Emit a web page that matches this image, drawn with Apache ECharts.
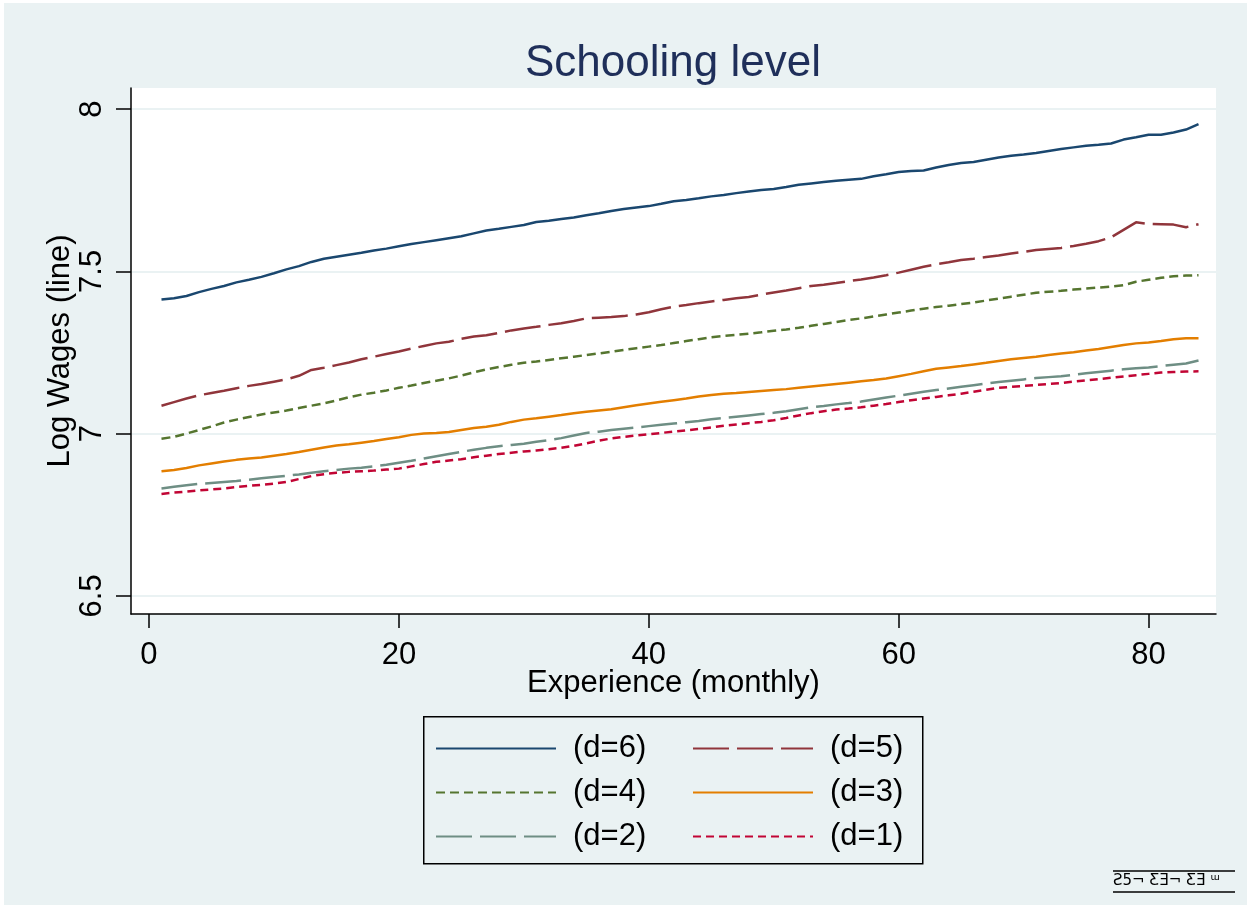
<!DOCTYPE html>
<html>
<head>
<meta charset="utf-8">
<title>Schooling level</title>
<script src="https://cdn.jsdelivr.net/npm/echarts@6/dist/echarts.min.js"></script>
<style>
  html, body { margin: 0; padding: 0; background: #ffffff; }
  #chart { width: 1247px; height: 905px; }
</style>
</head>
<body>
<div id="chart"></div>
<script>
// Experience in months
const experience = [
  1,2,3,4,5,6,7,8,9,10,11,12,13,14,15,16,17,18,19,20,21,22,23,24,25,26,27,28,29,30,
  31,32,33,34,35,36,37,38,39,40,41,42,43,44,45,46,47,48,49,50,51,52,53,54,55,56,57,58,59,60,
  61,62,63,64,65,66,67,68,69,70,71,72,73,74,75,76,77,78,79,80,81,82,83,84
];

// Mean log wage by schooling level d
const wagesD6 = [
  7.413,7.417,7.424,7.436,7.446,7.455,7.466,7.474,7.483,7.494,7.506,7.516,7.529,7.539,7.545,
  7.551,7.557,7.564,7.570,7.577,7.584,7.590,7.596,7.602,7.608,7.617,7.626,7.631,7.637,7.643,
  7.652,7.656,7.661,7.666,7.673,7.679,7.686,7.692,7.697,7.701,7.708,7.716,7.720,7.725,7.731,
  7.735,7.741,7.746,7.751,7.754,7.760,7.767,7.771,7.775,7.779,7.782,7.785,7.793,7.799,7.806,
  7.809,7.811,7.820,7.828,7.834,7.837,7.844,7.851,7.856,7.860,7.865,7.871,7.877,7.882,7.887,
  7.890,7.894,7.906,7.913,7.921,7.921,7.928,7.937,7.954
];
const wagesD5 = [
  7.086,7.097,7.108,7.118,7.125,7.132,7.140,7.147,7.153,7.160,7.167,7.178,7.196,7.203,7.211,
  7.219,7.229,7.237,7.245,7.253,7.262,7.270,7.278,7.283,7.292,7.299,7.303,7.310,7.318,7.324,
  7.329,7.335,7.340,7.347,7.355,7.357,7.359,7.362,7.367,7.374,7.383,7.391,7.396,7.402,7.407,
  7.412,7.417,7.421,7.428,7.435,7.441,7.448,7.455,7.459,7.464,7.470,7.475,7.481,7.488,7.496,
  7.505,7.514,7.522,7.528,7.535,7.539,7.544,7.549,7.555,7.560,7.566,7.569,7.572,7.578,7.585,
  7.593,7.605,7.628,7.651,7.646,7.645,7.644,7.636,7.645
];
const wagesD4 = [
  6.984,6.990,7.000,7.011,7.022,7.034,7.043,7.051,7.059,7.065,7.071,7.079,7.086,7.093,7.102,
  7.112,7.120,7.126,7.133,7.141,7.148,7.156,7.163,7.170,7.179,7.189,7.198,7.205,7.212,7.218,
  7.222,7.227,7.232,7.237,7.242,7.247,7.252,7.258,7.263,7.268,7.273,7.279,7.285,7.291,7.297,
  7.301,7.304,7.308,7.312,7.317,7.321,7.326,7.332,7.338,7.344,7.350,7.355,7.361,7.367,7.373,
  7.379,7.385,7.390,7.394,7.399,7.404,7.410,7.416,7.422,7.428,7.434,7.437,7.440,7.444,7.447,
  7.450,7.453,7.457,7.468,7.474,7.480,7.485,7.487,7.488
];
const wagesD3 = [
  6.884,6.888,6.894,6.902,6.908,6.914,6.919,6.923,6.926,6.932,6.937,6.943,6.950,6.957,6.963,
  6.967,6.972,6.977,6.983,6.989,6.996,7.000,7.002,7.005,7.011,7.017,7.021,7.027,7.036,7.043,
  7.047,7.052,7.057,7.063,7.067,7.071,7.075,7.081,7.087,7.093,7.098,7.103,7.108,7.114,7.119,
  7.123,7.125,7.128,7.131,7.134,7.137,7.141,7.145,7.149,7.153,7.157,7.161,7.165,7.170,7.177,
  7.184,7.192,7.200,7.204,7.208,7.213,7.218,7.224,7.229,7.233,7.237,7.242,7.247,7.251,7.256,
  7.261,7.267,7.273,7.278,7.281,7.285,7.291,7.294,7.294
];
const wagesD2 = [
  6.831,6.836,6.841,6.845,6.848,6.851,6.854,6.858,6.862,6.866,6.870,6.874,6.879,6.884,6.888,
  6.892,6.895,6.899,6.904,6.910,6.916,6.923,6.930,6.937,6.944,6.950,6.956,6.961,6.965,6.969,
  6.975,6.980,6.986,6.994,7.002,7.006,7.011,7.015,7.019,7.023,7.027,7.031,7.035,7.039,7.044,
  7.048,7.052,7.056,7.060,7.064,7.069,7.075,7.081,7.085,7.090,7.094,7.099,7.105,7.111,7.117,
  7.123,7.129,7.134,7.139,7.144,7.149,7.154,7.159,7.163,7.167,7.171,7.174,7.177,7.181,7.186,
  7.190,7.194,7.198,7.201,7.204,7.208,7.212,7.216,7.225
];
const wagesD1 = [
  6.814,6.818,6.821,6.825,6.828,6.831,6.835,6.839,6.842,6.846,6.851,6.860,6.869,6.875,6.879,
  6.882,6.884,6.886,6.889,6.892,6.899,6.906,6.913,6.917,6.921,6.927,6.932,6.937,6.941,6.945,
  6.948,6.952,6.956,6.962,6.970,6.978,6.985,6.990,6.994,6.998,7.002,7.006,7.010,7.014,7.019,
  7.024,7.028,7.032,7.036,7.041,7.048,7.056,7.063,7.069,7.074,7.077,7.081,7.086,7.091,7.097,
  7.103,7.108,7.113,7.118,7.123,7.129,7.135,7.141,7.144,7.147,7.150,7.153,7.156,7.160,7.164,
  7.168,7.172,7.176,7.180,7.184,7.188,7.190,7.191,7.192
];

const xTicks = [0, 20, 40, 60, 80];
const yTicks = [6.5, 7, 7.5, 8];
const seriesNames = ['(d=6)', '(d=5)', '(d=4)', '(d=3)', '(d=2)', '(d=1)'];

const FONT = '"Liberation Sans", Arial, sans-serif';
const BG = '#EAF2F3';
const TEXT_SIZE = 31;

const styles = [
  { color: '#1A476F', type: 'solid' },
  { color: '#90353B', type: [36, 8] },
  { color: '#55752F', type: [9, 5] },
  { color: '#E37E00', type: 'solid' },
  { color: '#6E8E84', type: [36, 8] },
  { color: '#C10534', type: [8, 5] }
];
const values = [wagesD6, wagesD5, wagesD4, wagesD3, wagesD2, wagesD1];

const series = seriesNames.map((name, i) => ({
  name: name,
  type: 'line',
  showSymbol: false,
  symbol: 'none',
  animation: false,
  data: experience.map((x, j) => [x, values[i][j]]),
  lineStyle: { color: styles[i].color, width: 2.5, type: styles[i].type },
  itemStyle: { color: styles[i].color }
}));

const chart = echarts.init(document.getElementById('chart'), null, { renderer: 'canvas' });

chart.setOption({
  backgroundColor: BG,
  animation: false,
  textStyle: { fontFamily: FONT },
  title: {
    text: 'Schooling level',
    left: 668,
    top: 37,
    textAlign: 'center',
    textStyle: { fontFamily: FONT, fontSize: 44, fontWeight: 'normal', color: '#1F2F5A' }
  },
  grid: {
    left: 131, right: 31, top: 88, bottom: 291,
    show: true, backgroundColor: '#ffffff', borderWidth: 0
  },
  xAxis: {
    type: 'value',
    min: -1.44,
    max: 85.4,
    name: 'Experience (monthly)',
    nameLocation: 'middle',
    nameMoveOverlap: false,
    nameGap: 54,
    nameTextStyle: { fontFamily: FONT, fontSize: TEXT_SIZE, color: '#000' },
    axisLine: { show: true, onZero: false, lineStyle: { color: '#000', width: 1.5 } },
    axisTick: { show: true, length: 14, customValues: xTicks, lineStyle: { color: '#000', width: 1.5 } },
    axisLabel: { customValues: xTicks, margin: 26, fontFamily: FONT, fontSize: TEXT_SIZE, color: '#000' },
    splitLine: { show: false }
  },
  yAxis: {
    type: 'value',
    min: 6.444,
    max: 8.065,
    name: 'Log Wages (line)',
    nameLocation: 'middle',
    nameRotate: 90,
    nameMoveOverlap: false,
    nameGap: 55,
    nameTextStyle: { fontFamily: FONT, fontSize: TEXT_SIZE, color: '#000' },
    axisLine: { show: true, onZero: false, lineStyle: { color: '#000', width: 1.5 } },
    axisTick: { show: true, length: 15, customValues: yTicks, lineStyle: { color: '#000', width: 1.5 } },
    axisLabel: { customValues: yTicks, rotate: 90, margin: 23, fontFamily: FONT, fontSize: TEXT_SIZE, color: '#000' },
    splitLine: { show: true, lineStyle: { color: BG, width: 2 } }
  },
  legend: {
    data: seriesNames,
    left: 435,
    top: 733,
    width: 520,
    orient: 'horizontal',
    itemWidth: 120,
    itemHeight: 14,
    itemGap: 13,
    padding: 0,
    itemStyle: { opacity: 0 },
    textStyle: {
      fontFamily: FONT, fontSize: TEXT_SIZE, color: '#000',
      width: 106, lineHeight: 31, padding: [0, 0, 0, 12], overflow: 'none'
    }
  },
  graphic: [
    // thin white margin along the top and left edges
    { type: 'rect', left: 0, top: 0, shape: { width: 1247, height: 3 }, style: { fill: '#ffffff' }, silent: true },
    { type: 'rect', left: 0, top: 0, shape: { width: 4, height: 905 }, style: { fill: '#ffffff' }, silent: true },
    // legend frame
    { type: 'rect', left: 423, top: 716, shape: { width: 499, height: 147 },
      style: { fill: 'transparent', stroke: '#000', lineWidth: 1.5 }, silent: true, z: -1 },
    // small mark in the lower right corner
    { type: 'line', shape: { x1: 1113, y1: 871, x2: 1235, y2: 871 }, style: { stroke: '#000', lineWidth: 1.5 }, silent: true },
    { type: 'line', shape: { x1: 1113, y1: 892, x2: 1235, y2: 892 }, style: { stroke: '#000', lineWidth: 1.5 }, silent: true },
    { type: 'text', left: 1113, top: 874, silent: true,
      style: { text: 'Ƨ5¬ ƸƎ¬ ƸƎ ᵚ', fontFamily: 'DejaVu Sans', fontSize: 15, fill: '#000' } }
  ],
  series: series
});
</script>
</body>
</html>
